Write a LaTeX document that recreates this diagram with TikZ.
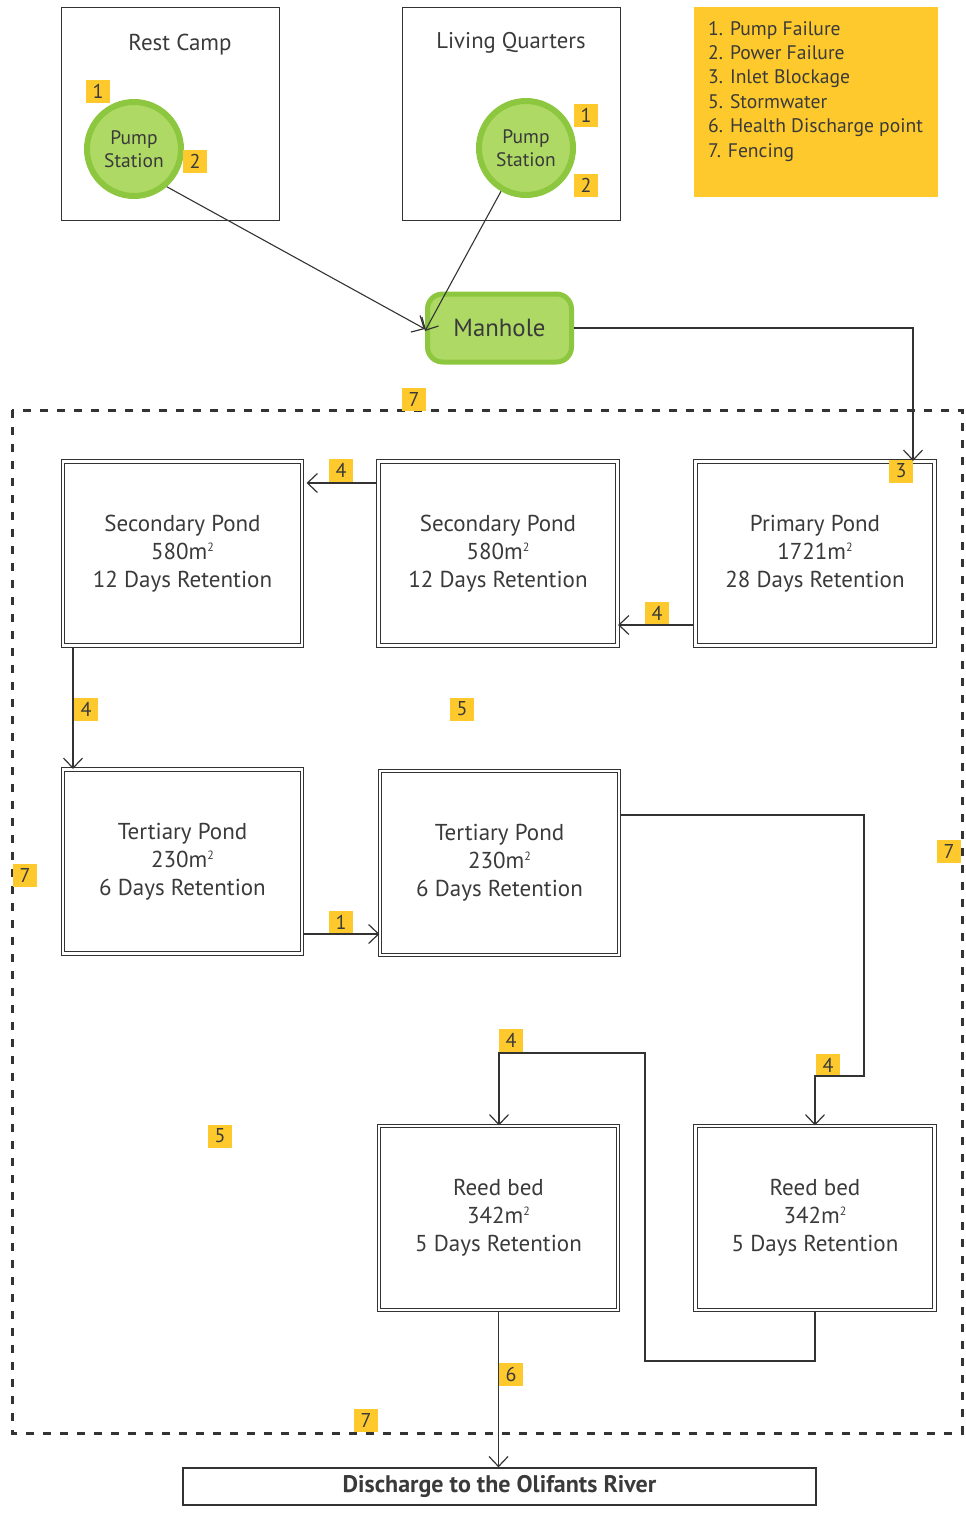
\documentclass[tikz,border=0pt]{standalone}
\usepackage{fontspec}
\setmainfont{PT Sans}
\usetikzlibrary{arrows.meta}
\definecolor{txt}{HTML}{3A3A3A}
\definecolor{ln}{HTML}{333333}
\definecolor{yel}{HTML}{FDC92C}
\definecolor{gfill}{HTML}{AED964}
\definecolor{gdraw}{HTML}{8DC63F}
\newcommand{\sqm}{m\raisebox{8pt}{\fontsize{12}{12}\selectfont 2}}
\tikzset{
  area/.style={draw=ln, line width=1.3pt, minimum width=218pt, minimum height=213pt, inner sep=0pt},
  pump/.style={circle, fill=gfill, draw=gdraw, line width=6pt, minimum size=94pt, inner sep=0pt, text=txt, font=\fontsize{19.5}{23}\selectfont, align=center},
  pond/.style={draw=ln, double, double distance=2.5pt, line width=1.1pt, minimum width=239pt, minimum height=184pt, inner sep=0pt, text=txt, font=\fontsize{23}{28}\selectfont, align=center},
  tag/.style={fill=yel, inner sep=0pt, minimum width=24pt, minimum height=23pt, text=txt, font=\fontsize{20}{20}\selectfont},
  conn/.style={draw=ln, line width=1.1pt},
  arr/.style={conn, -{Straight Barb[length=10pt,width=19pt,line width=1.2pt]}},
}
\begin{document}
\begin{tikzpicture}[x=1pt,y=-1pt]
\useasboundingbox (0,0) rectangle (966,1523);
% areas
\node[area] (rc) at (170.5,114) {};
\node[text=txt, font=\fontsize{23}{25}\selectfont] (rct) at (180,45) {Rest Camp};
\node[area] (lq) at (511.5,114) {};
\node[text=txt, font=\fontsize{22.7}{25}\selectfont] (lqt) at (511,43) {Living Quarters};
\node[pump] (ps1) at (134,149) {Pump\\Station};
\node[pump] (ps2) at (526,148) {Pump\\Station};
\node[tag] (t1a) at (98,91) {1};
\node[tag] (t2a) at (195,161) {2};
\node[tag] (t1b) at (586,115) {1};
\node[tag] (t2b) at (586,185) {2};
% legend
\node[fill=yel, minimum width=244pt, minimum height=190pt, inner sep=0pt] (leg) at (816,102) {};
\node[anchor=north west, text=txt, font=\fontsize{19.6}{24.4}\selectfont, align=left, inner sep=0pt] (legt) at (708,21) {1. Pump Failure\\2. Power Failure\\3. Inlet Blockage\\5. Stormwater\\6. Health Discharge point\\7. Fencing};
% manhole
\node[rounded corners=15pt, fill=gfill, draw=gdraw, line width=5pt, minimum width=144pt, minimum height=68pt, inner sep=0pt, text=txt, font=\fontsize{24.8}{28}\selectfont] (man) at (499.5,328) {Manhole};
% fence
\draw[ln, line width=3pt, dash pattern=on 8pt off 9pt] (12,410) rectangle (962,1433);
\node[tag] (f1) at (414,399) {7};
\node[tag] (f2) at (25,875) {7};
\node[tag] (f3) at (949,851) {7};
\node[tag] (f4) at (366,1420) {7};
% ponds
\node[pond] (pp) at (815,553.5) {Primary Pond\\1721\sqm\\28 Days Retention};
\node[pond] (sp2) at (498,553.5) {Secondary Pond\\580\sqm\\12 Days Retention};
\node[pond] (sp1) at (182.5,553.5) {Secondary Pond\\580\sqm\\12 Days Retention};
\node[pond] (tp1) at (182.5,861.5) {Tertiary Pond\\230\sqm\\6 Days Retention};
\node[pond] (tp2) at (499.5,863) {Tertiary Pond\\230\sqm\\6 Days Retention};
\node[pond] (rb1) at (498.5,1218) {Reed bed\\342\sqm\\5 Days Retention};
\node[pond] (rb2) at (815,1218) {Reed bed\\342\sqm\\5 Days Retention};
\node[draw=ln, line width=1.3pt, minimum width=633pt, minimum height=37pt, inner sep=0pt, text=txt, font=\bfseries\fontsize{24}{25}\selectfont] (dis) at (499.5,1486.5) {Discharge to the Olifants River};
% tags
\node[tag] (t3) at (901,471) {3};
\node[tag] (t4a) at (657,613) {4};
\node[tag] (t4b) at (341,470) {4};
\node[tag] (t4c) at (86,709) {4};
\node[tag] (t5a) at (462,709) {5};
\node[tag] (t1c) at (341,922) {1};
\node[tag] (t4d) at (828,1065) {4};
\node[tag] (t4e) at (511,1040) {4};
\node[tag] (t5b) at (220,1136) {5};
\node[tag] (t6) at (511,1374) {6};
% connectors
\draw[arr] (ps1.-49) -- ([yshift=-1pt]man.west);
\draw[arr] (ps2.-120) -- ([yshift=-3pt]man.west);
\coordinate (c1) at (913,328);
\draw[arr] (man.east) -- (c1) -- (c1 |- pp.north);
\coordinate (c2) at (693,625);
\draw[arr] (c2) -- (c2 -| sp2.east);
\coordinate (c3) at (377,483);
\draw[arr] (c3) -- ([xshift=4pt]c3 -| sp1.east);
\coordinate (c4) at (73,648);
\draw[arr] (c4) -- (c4 |- tp1.north);
\coordinate (c5) at (304,934);
\draw[arr] (c5) -- (c5 -| tp2.west);
\coordinate (c6) at (621,815);
\coordinate (c7) at (864,1076);
\draw[arr] (c6) -- (c6 -| c7) -- (c7) -- (c7 -| rb2.north) -- (rb2.north);
\coordinate (c8) at (645,1361);
\coordinate (c9) at (499,1053);
\draw[arr] (rb2.south) -- (rb2.south |- c8) -- (c8) -- (c8 |- c9) -- (c9) -- (c9 |- rb1.north);
\draw[arr] (rb1.south) -- (dis.north -| rb1.south);
\end{tikzpicture}
\end{document}
